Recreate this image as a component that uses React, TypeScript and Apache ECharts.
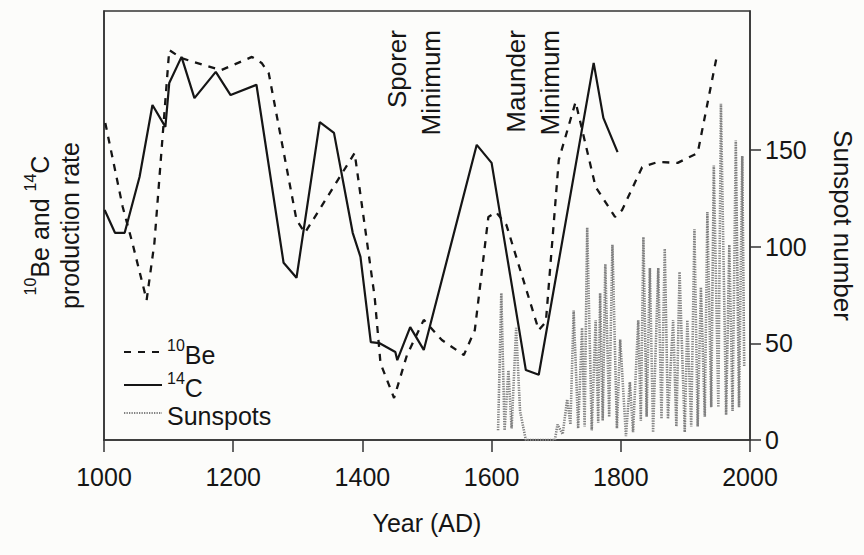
import React, { useEffect, useRef } from "react";
import * as echarts from "echarts";

const FONT = '"Liberation Sans", Arial, sans-serif';

// 10Be production rate (arbitrary units, 0-100)
const be10Years = [1002, 1029, 1044, 1066, 1078, 1101, 1120, 1181, 1229, 1244, 1255, 1298, 1311, 1336, 1388, 1419, 1428, 1449, 1469, 1495, 1523, 1557, 1574, 1595, 1607, 1623, 1673, 1684, 1704, 1730, 1761, 1791, 1802, 1833, 1857, 1888, 1919, 1948];
const be10Values = [73.9, 54.3, 45.9, 32.6, 45.9, 90.9, 89.0, 86.2, 89.3, 87.9, 85.5, 51.3, 48.3, 54.3, 66.9, 33.3, 17.9, 9.8, 19.8, 28.0, 23.3, 19.8, 25.6, 52.0, 53.1, 50.1, 25.6, 27.5, 65.3, 78.8, 59.0, 52.0, 53.6, 63.6, 64.8, 64.6, 66.9, 89.0];

// 14C production rate (arbitrary units, 0-100)
const c14Years = [1001, 1017, 1032, 1055, 1075, 1095, 1101, 1120, 1140, 1173, 1196, 1236, 1278, 1298, 1334, 1356, 1385, 1397, 1413, 1426, 1451, 1454, 1474, 1495, 1577, 1600, 1653, 1673, 1758, 1773, 1795];
const c14Values = [53.6, 48.3, 48.3, 61.3, 78.1, 73.0, 83.2, 89.3, 79.7, 85.8, 80.4, 82.8, 41.3, 37.8, 74.1, 71.6, 48.3, 42.7, 22.8, 22.6, 20.5, 18.6, 26.3, 21.0, 68.8, 64.6, 16.3, 15.2, 87.9, 75.1, 67.1];

// Sunspot number (peaks and troughs)
const sunYears = [1610, 1615, 1620, 1626, 1631, 1638, 1644, 1653, 1698, 1702, 1710, 1717, 1722, 1727, 1734, 1740, 1744, 1748, 1755, 1761, 1765, 1768, 1772, 1776, 1782, 1787, 1794, 1799, 1808, 1814, 1819, 1827, 1831, 1835, 1840, 1845, 1850, 1858, 1863, 1868, 1873, 1881, 1886, 1891, 1899, 1903, 1909, 1914, 1919, 1924, 1930, 1934, 1940, 1944, 1951, 1955, 1963, 1968, 1973, 1978, 1983, 1988, 1991];
const sunValues = [5, 76, 5, 36, 6, 58, 15, 0, 0, 8, 3, 21, 8, 67, 6, 58, 7, 110, 5, 62, 9, 76, 10, 91, 12, 101, 6, 52, 2, 30, 4, 62, 10, 105, 12, 89, 4, 89, 11, 99, 11, 62, 7, 87, 4, 62, 7, 109, 7, 79, 12, 118, 17, 142, 17, 174, 13, 101, 15, 155, 17, 147, 38];

const xTicks = [1000, 1200, 1400, 1600, 1800, 2000];
const sunTicks = [0, 50, 100, 150];

const annotations = [
  { text: "Sporer", x: 397 },
  { text: "Minimum", x: 431 },
  { text: "Maunder", x: 516 },
  { text: "Minimum", x: 550 },
];

const zip = (xs: number[], ys: number[]) => xs.map((x, i) => [x, ys[i]]);

const INK = "#151515";
const FS = 25;
const rich = {
  t: { fontSize: FS, fontFamily: FONT, color: INK, lineHeight: 30, verticalAlign: "bottom" },
  sup: { fontSize: 16, fontFamily: FONT, color: INK, lineHeight: 30, verticalAlign: "top" },
};

export default function App() {
  const ref = useRef<HTMLDivElement>(null);
  useEffect(() => {
    const chart = echarts.init(ref.current!, null, { renderer: "svg" });
    chart.setOption({
      animation: false,
      backgroundColor: "#fcfcfa",
      grid: {
        left: 104,
        right: 108,
        top: 11,
        bottom: 115,
        show: true,
        borderColor: "#333",
        borderWidth: 1.5,
        backgroundColor: "transparent",
      },
      legend: {
        orient: "vertical",
        left: 118,
        top: 332,
        itemWidth: 38,
        itemHeight: 14,
        itemGap: 3,
        itemStyle: { opacity: 0 },
        data: ["10Be", "14C", "Sunspots"],
        formatter: (name: string) =>
          name === "10Be" ? "{sup|10}{t|Be}" : name === "14C" ? "{sup|14}{t|C}" : "{t|Sunspots}",
        textStyle: { rich, fontFamily: FONT, fontSize: FS, color: INK },
      },
      xAxis: {
        type: "value",
        min: 1000,
        max: 2000,
        interval: 200,
        axisLine: { show: true, lineStyle: { color: "#333", width: 1.5 } },
        axisTick: { show: true, length: 12, inside: false, lineStyle: { color: "#333", width: 1.5 }, customValues: xTicks },
        axisLabel: { margin: 24, fontSize: FS, fontFamily: FONT, color: INK, customValues: xTicks, formatter: (v: number) => String(v) },
        splitLine: { show: false },
        name: "Year (AD)",
        nameLocation: "middle",
        nameGap: 70,
        nameTextStyle: { fontSize: FS, fontFamily: FONT, color: INK },
      },
      yAxis: [
        {
          type: "value",
          min: 0,
          max: 100,
          position: "left",
          axisLine: { show: true, lineStyle: { color: "#333", width: 1.5 } },
          axisTick: { show: false },
          axisLabel: { show: false },
          splitLine: { show: false },
          name: "{sup|10}{t|Be and }{sup|14}{t|C}\n{t|production rate}",
          nameLocation: "middle",
          nameRotate: 90,
          nameGap: 22,
          nameTextStyle: { rich, fontFamily: FONT, fontSize: FS, color: INK },
        },
        {
          type: "value",
          min: 0,
          max: 222,
          position: "right",
          axisLine: { show: true, lineStyle: { color: "#333", width: 1.5 } },
          axisTick: { show: true, length: 11, lineStyle: { color: "#333", width: 1.5 }, customValues: sunTicks },
          axisLabel: { margin: 15, fontSize: FS, fontFamily: FONT, color: INK, customValues: sunTicks },
          splitLine: { show: false },
          name: "Sunspot number",
          nameLocation: "middle",
          nameRotate: -90,
          nameGap: 80,
          nameTextStyle: { fontSize: 26, fontFamily: FONT, color: INK },
        },
      ],
      graphic: annotations.map((a) => ({
        type: "text",
        x: a.x,
        y: 30,
        rotation: Math.PI / 2,
        style: {
          text: a.text,
          fontSize: 26,
          fontFamily: FONT,
          fill: INK,
          align: "right",
          verticalAlign: "middle",
        },
      })),
      series: [
        {
          name: "10Be",
          type: "line",
          yAxisIndex: 0,
          symbol: "none",
          data: zip(be10Years, be10Values),
          lineStyle: { color: INK, width: 2.3, type: [7, 7] },
          itemStyle: { color: INK },
        },
        {
          name: "14C",
          type: "line",
          yAxisIndex: 0,
          symbol: "none",
          data: zip(c14Years, c14Values),
          lineStyle: { color: INK, width: 2.2, type: "solid" },
          itemStyle: { color: INK },
        },
        {
          name: "Sunspots",
          type: "line",
          yAxisIndex: 1,
          symbol: "none",
          data: zip(sunYears, sunValues),
          lineStyle: { color: "#808080", width: 2.6, type: [1.3, 1.2] },
          itemStyle: { color: "#808080" },
        },
      ],
    });
    return () => chart.dispose();
  }, []);
  return <div ref={ref} style={{ position: "absolute", left: 0, top: 0, width: 864, height: 555 }} />;
}
